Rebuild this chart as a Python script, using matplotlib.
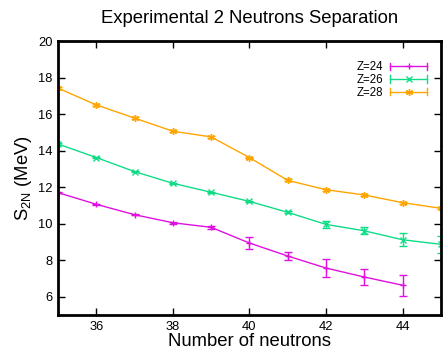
import matplotlib
matplotlib.use("Agg")
import matplotlib.pyplot as plt
from matplotlib.legend_handler import HandlerBase
from matplotlib.lines import Line2D

plt.rcParams['font.family'] = ['Liberation Sans', 'DejaVu Sans']

neutrons = [35, 36, 37, 38, 39, 40, 41, 42, 43, 44, 45]

s2n_z24 = [11.70, 11.06, 10.49, 10.05, 9.80, 8.94, 8.23, 7.57, 7.08, 6.63]
err_z24 = [0.03, 0.03, 0.04, 0.05, 0.08, 0.32, 0.23, 0.47, 0.46, 0.58]

s2n_z26 = [14.36, 13.62, 12.85, 12.21, 11.72, 11.22, 10.62, 9.96, 9.61, 9.12, 8.87]
err_z26 = [0.03, 0.03, 0.03, 0.03, 0.03, 0.04, 0.05, 0.18, 0.19, 0.35, 0.45]

s2n_z28 = [17.42, 16.50, 15.78, 15.06, 14.75, 13.62, 12.37, 11.86, 11.57, 11.15, 10.84]
err_z28 = [0.05, 0.05, 0.05, 0.05, 0.06, 0.05, 0.05, 0.05, 0.05, 0.05, 0.05]

series = [
    ("Z=24", s2n_z24, err_z24, "#e010e0", "+"),
    ("Z=26", s2n_z26, err_z26, "#10dc88", "x"),
    ("Z=28", s2n_z28, err_z28, "#ffa500", (6, 2, 0)),
]


class HorizontalErrorHandle(HandlerBase):
    """Legend key drawn as a horizontal bar with end caps and a central marker."""

    def create_artists(self, legend, orig_handle, xdescent, ydescent,
                       width, height, fontsize, trans):
        color, marker = orig_handle
        y = height / 2 - ydescent
        x0, x1 = -xdescent, width - xdescent
        cap = height * 0.45
        arts = [
            Line2D([x0, x1], [y, y], color=color, lw=1.0),
            Line2D([x0, x0], [y - cap, y + cap], color=color, lw=1.0),
            Line2D([x1, x1], [y - cap, y + cap], color=color, lw=1.0),
            Line2D([(x0 + x1) / 2], [y], color=color, marker=marker,
                   markersize=5, mew=1.0, ls='none'),
        ]
        for a in arts:
            a.set_transform(trans)
        return arts


fig = plt.figure(figsize=(4.43, 3.55), dpi=100)
ax = fig.add_axes([0.131, 0.1127, 0.864, 0.7718])

handles, labels = [], []
for label, vals, errs, color, marker in series:
    xs = neutrons[:len(vals)]
    ax.errorbar(xs, vals, yerr=errs, color=color, marker=marker,
                markersize=5, mew=1.0, lw=1.0, elinewidth=1.0,
                capsize=3, capthick=1.0, clip_on=True)
    handles.append((color, marker))
    labels.append(label)

ax.set_xlim(35, 45)
ax.set_ylim(5, 20)
ax.set_xticks([36, 38, 40, 42, 44])
ax.set_yticks([6, 8, 10, 12, 14, 16, 18, 20])
ax.tick_params(direction='in', top=True, right=True, length=5, width=1,
               labelsize=9.3, pad=4)
for sp in ax.spines.values():
    sp.set_linewidth(2)

ax.set_xlabel("Number of neutrons", fontsize=13.3, labelpad=0)
ax.set_ylabel(r"S$_{\mathregular{2N}}$ (MeV)", fontsize=13.3, labelpad=3)
ax.set_title("Experimental 2 Neutrons Separation", fontsize=13.3, pad=13)

ax.legend(handles, labels, handler_map={tuple: HorizontalErrorHandle()},
          loc='upper right', bbox_to_anchor=(0.985, 0.955), frameon=False,
          markerfirst=False, fontsize=8.3, handlelength=3.2, handletextpad=0.6,
          labelspacing=0.05, borderpad=0.2)

fig.savefig("out.png", dpi=100)
